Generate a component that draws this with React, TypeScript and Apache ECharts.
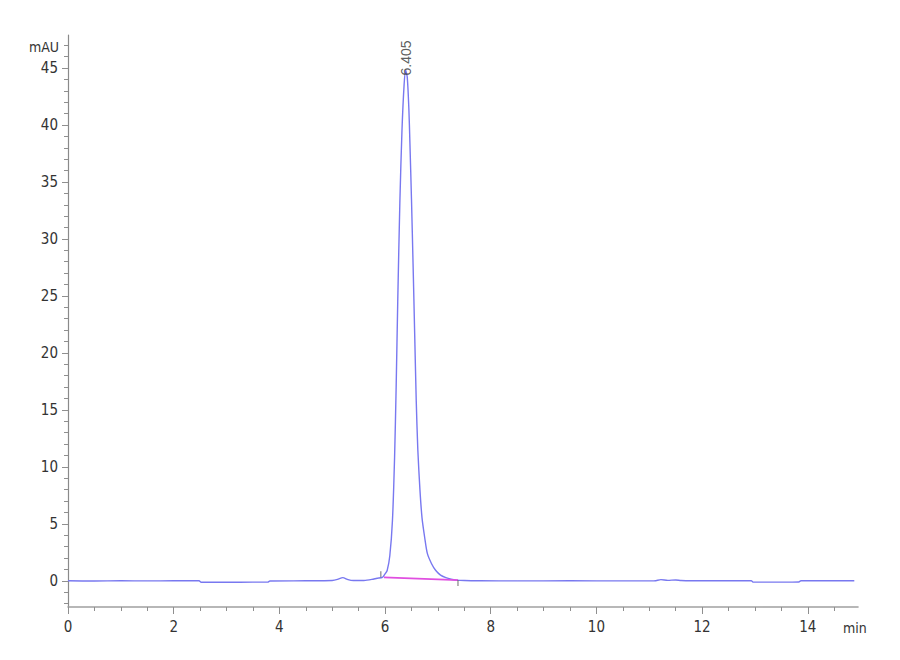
import React, { useEffect, useRef } from 'react';
import * as echarts from 'echarts';

// Retention time (min) and detector signal (mAU)
const times = [
  0, 0.5, 1.0, 1.5, 2.0, 2.48, 2.52, 3.0, 3.5, 3.78, 3.82, 4.5, 5.0, 5.1, 5.2, 5.3, 5.4, 5.6, 5.75,
  5.85, 5.95, 6.0, 6.04, 6.09, 6.14, 6.18, 6.21, 6.24, 6.28, 6.32, 6.36, 6.39, 6.42, 6.45, 6.47,
  6.5, 6.53, 6.56, 6.59, 6.62, 6.66, 6.7, 6.75, 6.8, 6.88, 6.96, 7.05, 7.15, 7.25, 7.35, 7.5, 7.8,
  8.5, 9.5, 10.5, 11.1, 11.22, 11.35, 11.5, 11.6, 11.8, 12.5, 12.93, 12.97, 13.5, 13.83, 13.87,
  14.5, 14.88,
];
const signal = [
  0.0, -0.02, 0.0, -0.01, 0.0, 0.0, -0.13, -0.13, -0.12, -0.12, -0.02, 0.0, 0.03, 0.12, 0.28, 0.1,
  0.02, 0.03, 0.12, 0.22, 0.3, 0.6, 0.9, 2.2, 5.3, 10.8, 17.0, 24.5, 33.2, 39.5, 43.5, 44.8, 44.2,
  41.5, 38.5, 33.5, 27.8, 21.8, 15.8, 11.5, 8.0, 5.5, 3.8, 2.4, 1.5, 0.9, 0.5, 0.28, 0.14, 0.06,
  0.02, 0.0, -0.01, 0.0, -0.01, 0.0, 0.1, 0.04, 0.07, 0.02, 0.0, 0.0, 0.0, -0.12, -0.12, -0.1,
  0.0, 0.0, 0.0,
];

// Integration baseline (start / end)
const baselineTimes = [5.98, 7.38];
const baselineValues = [0.3, 0.06];

// Peak annotation
const peakTime = 6.405;
const peakLabelValue = 44.3;
const peakLabel = '6.405';

// Axis ticks
const xMajorTicks = [0, 2, 4, 6, 8, 10, 12, 14];
const xMinorTicks = [
  0.5, 1, 1.5, 2.5, 3, 3.5, 4.5, 5, 5.5, 6.5, 7, 7.5, 8.5, 9, 9.5, 10.5, 11, 11.5, 12.5, 13, 13.5,
  14.5,
];
const yMajorTicks = [0, 5, 10, 15, 20, 25, 30, 35, 40, 45];
const yMinorTicks = [
  -2, -1, 1, 2, 3, 4, 6, 7, 8, 9, 11, 12, 13, 14, 16, 17, 18, 19, 21, 22, 23, 24, 26, 27, 28, 29,
  31, 32, 33, 34, 36, 37, 38, 39, 41, 42, 43, 44, 46, 47,
];

const X_MIN = 0;
const X_MAX = 14.95;
const Y_MIN = -2.3;
const Y_MAX = 47.9;

const FONT = "'Liberation Sans Narrow', 'Arial Narrow', 'DejaVu Sans Condensed', 'Liberation Sans', Arial, sans-serif";

export default function App() {
  const ref = useRef<HTMLDivElement>(null);

  useEffect(() => {
    if (!ref.current) return;
    const chart = echarts.init(ref.current, undefined, { renderer: 'svg' });

    const trace = times.map((t, i) => [t, signal[i]]);
    const baseline = baselineTimes.map((t, i) => [t, baselineValues[i]]);

    const axisGray = '#8f8f8f';

    chart.setOption({
      animation: false,
      backgroundColor: '#ffffff',
      grid: { left: 68, right: 42, top: 35, bottom: 53 },
      xAxis: [
        {
          type: 'value',
          min: X_MIN,
          max: X_MAX,
          position: 'bottom',
          axisLine: { show: true, onZero: false, lineStyle: { color: '#a0a0a0', width: 1.6 } },
          axisTick: { show: true, length: 7, customValues: xMajorTicks, lineStyle: { color: axisGray, width: 1 } },
          axisLabel: { show: true, customValues: xMajorTicks, margin: 12, fontSize: 15, color: '#333', fontFamily: FONT },
          splitLine: { show: false },
        },
        {
          type: 'value',
          min: X_MIN,
          max: X_MAX,
          position: 'bottom',
          axisLine: { show: false, onZero: false },
          axisTick: { show: true, length: 4, customValues: xMinorTicks, lineStyle: { color: axisGray, width: 1 } },
          axisLabel: { show: false },
          splitLine: { show: false },
        },
      ],
      yAxis: [
        {
          type: 'value',
          min: Y_MIN,
          max: Y_MAX,
          position: 'left',
          axisLine: { show: true, onZero: false, lineStyle: { color: '#8a8a8a', width: 1.2 } },
          axisTick: { show: true, length: 6, customValues: yMajorTicks, lineStyle: { color: axisGray, width: 1 } },
          axisLabel: { show: true, customValues: yMajorTicks, margin: 10, fontSize: 15, color: '#333', fontFamily: FONT },
          splitLine: { show: false },
        },
        {
          type: 'value',
          min: Y_MIN,
          max: Y_MAX,
          position: 'left',
          axisLine: { show: false, onZero: false },
          axisTick: { show: true, length: 4, customValues: yMinorTicks, lineStyle: { color: axisGray, width: 1 } },
          axisLabel: { show: false },
          splitLine: { show: false },
        },
      ],
      graphic: [
        {
          type: 'text',
          x: 59,
          y: 47,
          style: {
            text: 'mAU',
            align: 'right',
            verticalAlign: 'middle',
            fontSize: 14,
            fontFamily: FONT,
            fill: '#333',
          },
        },
        {
          type: 'text',
          x: 843,
          y: 628,
          style: {
            text: 'min',
            align: 'left',
            verticalAlign: 'middle',
            fontSize: 14,
            fontFamily: FONT,
            fill: '#333',
          },
        },
      ],
      series: [
        {
          name: 'signal',
          type: 'line',
          xAxisIndex: 0,
          yAxisIndex: 0,
          data: trace,
          showSymbol: false,
          smooth: 0.25,
          lineStyle: { color: '#7878f0', width: 1.4 },
          z: 3,
        },
        {
          name: 'baseline',
          type: 'line',
          xAxisIndex: 0,
          yAxisIndex: 0,
          data: baseline,
          showSymbol: false,
          lineStyle: { color: '#e04fe0', width: 1.6 },
          z: 4,
        },
        {
          name: 'marks',
          type: 'scatter',
          xAxisIndex: 0,
          yAxisIndex: 0,
          symbol: 'rect',
          symbolSize: [1.2, 6],
          itemStyle: { color: '#666' },
          data: [
            { value: [baselineTimes[0] - 0.06, baselineValues[0]], symbolOffset: [0, -3] },
            { value: [baselineTimes[1], baselineValues[1]], symbolOffset: [0, 3] },
          ],
          z: 5,
        },
        {
          name: 'peak',
          type: 'scatter',
          xAxisIndex: 0,
          yAxisIndex: 0,
          symbolSize: 1,
          itemStyle: { color: 'rgba(0,0,0,0)' },
          data: [[peakTime, peakLabelValue]],
          label: {
            show: true,
            formatter: peakLabel,
            position: [0, 0],
            rotate: 90,
            align: 'left',
            verticalAlign: 'middle',
            fontSize: 14,
            color: '#333',
            fontFamily: "'Liberation Sans', Arial, sans-serif",
          },
          z: 6,
        },
      ],
    });

    return () => {
      chart.dispose();
    };
  }, []);

  return (
    <div
      ref={ref}
      style={{ position: 'absolute', left: 0, top: 0, width: 900, height: 660, background: '#fff' }}
    />
  );
}
